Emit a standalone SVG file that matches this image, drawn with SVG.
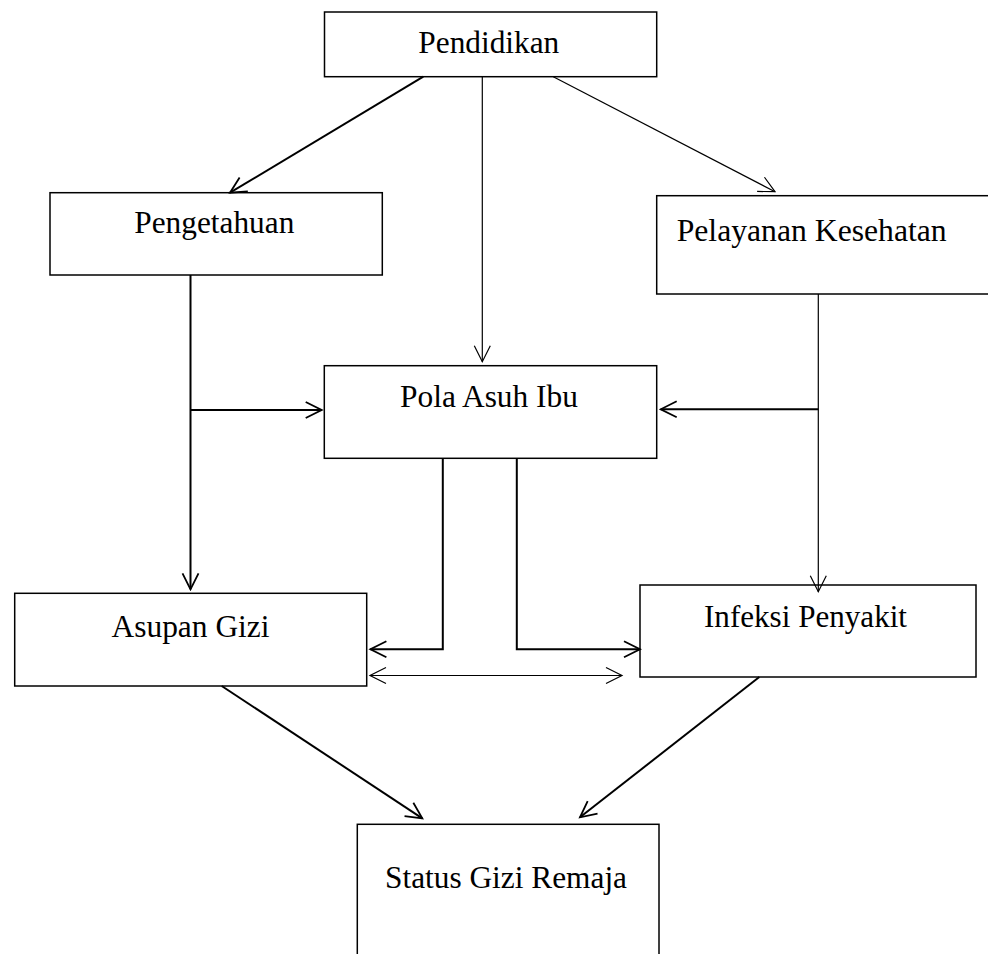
<svg xmlns="http://www.w3.org/2000/svg" width="988" height="954" viewBox="0 0 988 954">
<style>
.box{fill:#fff;stroke:#000;stroke-width:1.5}
.lbl{font-family:"Liberation Serif","Times New Roman",serif;font-size:31px;fill:#000}
.c{fill:none;stroke:#000;stroke-width:2}
.t{fill:none;stroke:#000;stroke-width:1.2}
</style>
<defs>
<marker id="ah" viewBox="-18 -10 20 20" refX="0" refY="0" markerWidth="20" markerHeight="20" markerUnits="userSpaceOnUse" orient="auto-start-reverse">
<path d="M-16,-8 L0,0 L-16,8" fill="none" stroke="#000" stroke-width="1.8"/>
</marker>
<marker id="ahs" viewBox="-18 -10 20 20" refX="0" refY="0" markerWidth="20" markerHeight="20" markerUnits="userSpaceOnUse" orient="auto-start-reverse">
<path d="M-16,-8 L0,0 L-16,8" fill="none" stroke="#000" stroke-width="1.2"/>
</marker>
</defs>
<rect width="988" height="954" fill="#fff"/>
<g id="pendidikan"><rect class="box" x="324.5" y="12" width="332.2" height="64.7"/><text class="lbl" x="418.3" y="53.3" textLength="141" lengthAdjust="spacingAndGlyphs">Pendidikan</text></g>
<g id="pengetahuan"><rect class="box" x="50" y="192.7" width="332.3" height="82.3"/><text class="lbl" x="134.3" y="232.7" textLength="160" lengthAdjust="spacingAndGlyphs">Pengetahuan</text></g>
<g id="pelayanan"><rect class="box" x="656.7" y="195.7" width="340" height="98.3"/><text class="lbl" x="676.7" y="241" textLength="270" lengthAdjust="spacingAndGlyphs">Pelayanan Kesehatan</text></g>
<g id="polaasuh"><rect class="box" x="324.3" y="365.7" width="332.4" height="92.6"/><text class="lbl" x="400" y="406.7" textLength="178" lengthAdjust="spacingAndGlyphs">Pola Asuh Ibu</text></g>
<g id="asupan"><rect class="box" x="14.7" y="593.3" width="352" height="92.7"/><text class="lbl" x="111.5" y="636.7" textLength="158" lengthAdjust="spacingAndGlyphs">Asupan Gizi</text></g>
<g id="infeksi"><rect class="box" x="640" y="585" width="336" height="92"/><text class="lbl" x="704" y="626.7" textLength="203" lengthAdjust="spacingAndGlyphs">Infeksi Penyakit</text></g>
<g id="status"><rect class="box" x="357.3" y="824.3" width="301.7" height="150"/><text class="lbl" x="385" y="888.3" textLength="242" lengthAdjust="spacingAndGlyphs">Status Gizi Remaja</text></g>
<g id="connectors">
<line class="c" x1="423.3" y1="76.7" x2="230" y2="192.7" marker-end="url(#ah)"/>
<line class="t" x1="482.3" y1="76.7" x2="482.3" y2="361.7" marker-end="url(#ahs)"/>
<line class="t" x1="553.3" y1="76.7" x2="775" y2="191.7" marker-end="url(#ahs)"/>
<line class="c" x1="190.5" y1="275" x2="190.5" y2="589.3" marker-end="url(#ah)"/>
<line class="c" x1="190.5" y1="410" x2="321.7" y2="410" marker-end="url(#ah)"/>
<line class="t" x1="818.3" y1="294" x2="818.3" y2="591.7" marker-end="url(#ahs)"/>
<line class="c" x1="818.3" y1="409.3" x2="660.7" y2="409.3" marker-end="url(#ah)"/>
<polyline class="c" points="442.8,458.3 442.8,649.3 370.4,649.3" marker-end="url(#ah)"/>
<polyline class="c" points="516.8,458.3 516.8,649.3 640,649.3" marker-end="url(#ah)"/>
<line class="t" x1="370" y1="675.5" x2="622" y2="675.5" marker-start="url(#ahs)" marker-end="url(#ahs)"/>
<line class="c" x1="221.7" y1="686" x2="422.3" y2="818.3" marker-end="url(#ah)"/>
<line class="c" x1="759.3" y1="677" x2="580" y2="817.3" marker-end="url(#ah)"/>
</g>
</svg>
